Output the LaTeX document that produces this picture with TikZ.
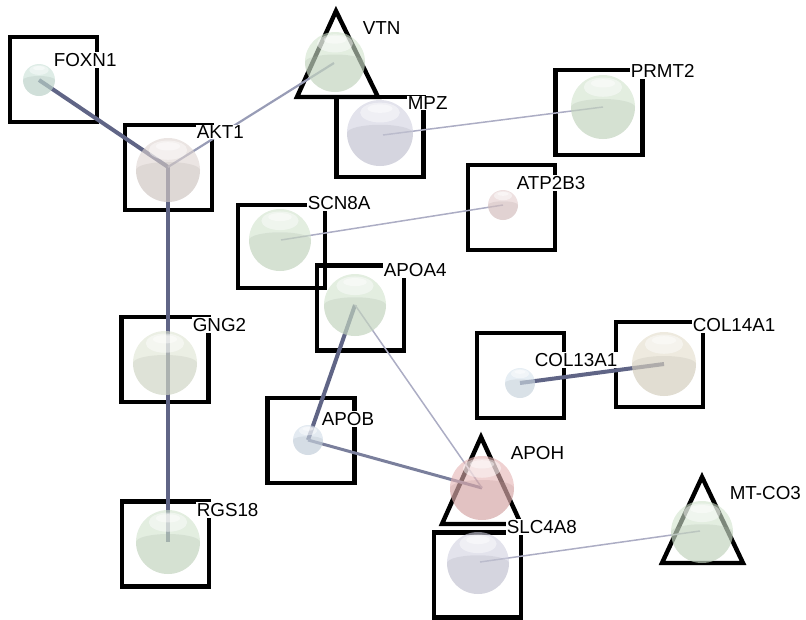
\documentclass[tikz,border=0pt]{standalone}
\usepackage{fontspec}
\setmainfont{Liberation Sans}
\begin{document}
\begin{tikzpicture}[x=1pt,y=-1pt,
  frame/.style={draw=black, line width=4.4pt, minimum width=87pt, minimum height=85pt, inner sep=0pt},
  tri/.style={draw=black, line width=4.4pt, line join=miter},
  lbl/.style={fill=white, inner xsep=0.6pt, inner ysep=1pt, anchor=west, font=\fontsize{18.8}{20}\selectfont},
  strong/.style={draw=edgedark, line width=4pt},
  medium/.style={draw=edgemid, line width=3pt},
  weak/.style={draw=edgelight, line width=2.2pt},
  faint/.style={draw=edgefaint, line width=1.5pt},
  pics/ball/.style 2 args={code={
    \fill[#2, opacity=0.6] (0,0) circle (#1);
    \fill[#2!80!black, opacity=0.22] (-#1,0) arc[start angle=180, end angle=360, x radius=#1, y radius=0.25*#1]
        arc[start angle=0, end angle=180, radius=#1] -- cycle;
    \fill[white, opacity=0.45] (0,-0.62*#1) ellipse [x radius=0.6*#1, y radius=0.3*#1];
    \fill[white, opacity=0.45] (0,-0.74*#1) ellipse [x radius=0.38*#1, y radius=0.13*#1];
  }}]
\definecolor{edgedark}{RGB}{96,101,134}
\definecolor{edgemid}{RGB}{122,127,156}
\definecolor{edgelight}{RGB}{152,156,182}
\definecolor{edgefaint}{RGB}{172,173,196}
\definecolor{bgreen}{RGB}{208,226,204}
\definecolor{bteal}{RGB}{200,224,214}
\definecolor{bgrey}{RGB}{222,212,208}
\definecolor{blav}{RGB}{208,208,224}
\definecolor{bpink}{RGB}{226,204,204}
\definecolor{bblue}{RGB}{208,220,232}
\definecolor{brose}{RGB}{228,178,178}
\definecolor{bsky}{RGB}{214,226,236}
\definecolor{bsand}{RGB}{226,220,202}
\definecolor{bolive}{RGB}{222,228,210}

\useasboundingbox (0,0) rectangle (806,619);

% protein centres (edge end points)
\coordinate (foxn1) at (39,80);
\coordinate (akt1) at (168,167);
\coordinate (vtn) at (334,63);
\coordinate (mpz) at (383,135);
\coordinate (prmt2) at (603,107);
\coordinate (atp2b3) at (503,205);
\coordinate (scn8a) at (281,240);
\coordinate (apoa4) at (355,305);
\coordinate (apob) at (308,440);
\coordinate (apoh) at (482,488);
\coordinate (slc4a8) at (480,562);
\coordinate (mtco3) at (700,531);
\coordinate (col13a1) at (520,383);
\coordinate (col14a1) at (664,364);
\coordinate (gng2) at (165,363);
\coordinate (rgs18) at (168,542);

% square frames
\node[frame] (foxn1box) at (53.5,79.5) {};
\node[frame] (akt1box) at (168.5,167.5) {};
\node[frame, minimum height=80pt] (mpzbox) at (380,137) {};
\node[frame] (prmt2box) at (599,112.5) {};
\node[frame] (atp2b3box) at (511.5,207.5) {};
\node[frame, minimum height=83pt] (scn8abox) at (281.5,246.5) {};
\node[frame] (apoa4box) at (360.5,308) {};
\node[frame] (gng2box) at (165,359.5) {};
\node[frame] (col13a1box) at (520.5,375.5) {};
\node[frame] (col14a1box) at (659.5,364.5) {};
\node[frame] (apobbox) at (311,440.5) {};
\node[frame] (rgs18box) at (165.5,544) {};
\node[frame] (slc4a8box) at (477.5,575) {};

% triangular frames
\coordinate (vtnA) at (336,11);  \coordinate (vtnB) at (297,97);  \coordinate (vtnC) at (378,97);
\coordinate (apohA) at (481,437); \coordinate (apohB) at (442,524); \coordinate (apohC) at (521,524);
\coordinate (mtA) at (702,477);  \coordinate (mtB) at (662,563);  \coordinate (mtC) at (743,563);
\draw[tri] (vtnA) -- (vtnB) -- (vtnC) -- cycle;
\draw[tri] (apohA) -- (apohB) -- (apohC) -- cycle;
\draw[tri] (mtA) -- (mtB) -- (mtC) -- cycle;

% interactions
\draw[strong] (foxn1) -- (akt1);
\draw[strong] (akt1) -- (rgs18);
\draw[strong] (apoa4) -- (apob);
\draw[strong] (col13a1) -- (col14a1);
\draw[medium] (apob) -- (apoh);
\draw[weak] (akt1) -- (vtn);
\draw[faint] (mpz) -- (prmt2);
\draw[faint] (scn8a) -- (atp2b3);
\draw[faint] (apoa4) -- (apoh);
\draw[faint] (slc4a8) -- (mtco3);

% protein spheres
\pic at (39,80) {ball={16}{bteal}};
\pic at (168,170) {ball={32}{bgrey}};
\pic at (335,62) {ball={30}{bgreen}};
\pic at (380,133) {ball={33}{blav}};
\pic at (603,107) {ball={32}{bgreen}};
\pic at (503,205) {ball={15}{bpink}};
\pic at (280,240) {ball={31}{bgreen}};
\pic at (355,305) {ball={31}{bgreen}};
\pic at (308,440) {ball={15}{bblue}};
\pic at (482,488) {ball={32}{brose}};
\pic at (478,563) {ball={31}{blav}};
\pic at (702,532) {ball={31}{bgreen}};
\pic at (520,383) {ball={15}{bsky}};
\pic at (664,364) {ball={32}{bsand}};
\pic at (165,363) {ball={32}{bolive}};
\pic at (168,542) {ball={32}{bgreen}};

% gene labels
\node[lbl] (foxn1lbl) at (53,60) {FOXN1};
\node[lbl] (akt1lbl) at (196,132) {AKT1};
\node[lbl] (vtnlbl) at (362,28) {VTN};
\node[lbl] (mpzlbl) at (407,103) {MPZ};
\node[lbl] (prmt2lbl) at (630,71) {PRMT2};
\node[lbl] (atp2b3lbl) at (516,183) {ATP2B3};
\node[lbl] (scn8albl) at (307,203) {SCN8A};
\node[lbl] (apoa4lbl) at (383,270) {APOA4};
\node[lbl] (gng2lbl) at (192,325) {GNG2};
\node[lbl] (rgs18lbl) at (196,510) {RGS18};
\node[lbl] (apoblbl) at (321,419) {APOB};
\node[lbl] (apohlbl) at (510,453) {APOH};
\node[lbl] (slc4a8lbl) at (506,527) {SLC4A8};
\node[lbl] (mtco3lbl) at (729,493) {MT-CO3};
\node[lbl] (col13a1lbl) at (534,360) {COL13A1};
\node[lbl] (col14a1lbl) at (692,325) {COL14A1};
\end{tikzpicture}
\end{document}
